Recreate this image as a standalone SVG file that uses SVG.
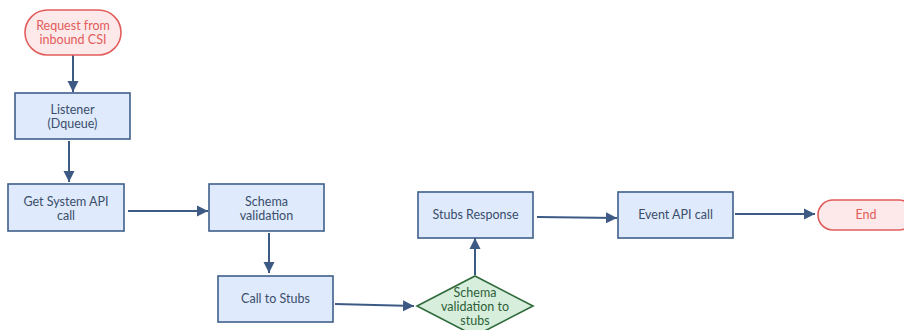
<svg xmlns="http://www.w3.org/2000/svg" width="904" height="330" viewBox="0 0 904 330">
<defs>
<marker id="ah" markerWidth="12" markerHeight="12" refX="11" refY="6" orient="auto" markerUnits="userSpaceOnUse">
<path d="M0,0.5 L11,6 L0,11.5 Z" fill="#3d5a85"/>
</marker>
<style>
.box{fill:#dfeafc;stroke:#3f5f8a;stroke-width:1.6}
.term{fill:#fde9e9;stroke:#e25c5c;stroke-width:1.6}
.dec{fill:#d6eedb;stroke:#2f6a3b;stroke-width:1.6}
.t{font-family:Lato,"Open Sans",sans-serif;font-size:12.5px;fill:#3a4e6b;text-anchor:middle}
.tr{font-family:Lato,"Open Sans",sans-serif;font-size:12.5px;fill:#e25c5c;text-anchor:middle}
.tg{font-family:Lato,"Open Sans",sans-serif;font-size:12.5px;fill:#2f5f38;text-anchor:middle}
.c{fill:none;stroke:#3d5a85;stroke-width:2;marker-end:url(#ah)}
</style>
</defs>
<rect width="904" height="330" fill="#ffffff"/>
<g id="connectors">
<line class="c" x1="73" y1="55" x2="73" y2="92"/>
<line class="c" x1="69" y1="141" x2="69" y2="182"/>
<line class="c" x1="128" y1="211" x2="208" y2="211"/>
<line class="c" x1="269" y1="233" x2="269" y2="273"/>
<line class="c" x1="335" y1="304" x2="414" y2="306"/>
<line class="c" x1="475" y1="275" x2="475" y2="238"/>
<line class="c" x1="537" y1="217" x2="617" y2="218"/>
<line class="c" x1="735" y1="214" x2="815" y2="214"/>
</g>
<g id="start">
<rect class="term" x="25" y="10" width="96" height="45" rx="22.5"/>
<text class="tr" x="73" y="30">Request from</text>
<text class="tr" x="73" y="44">inbound CSI</text>
</g>
<g id="listener">
<rect class="box" x="15" y="93" width="115" height="46"/>
<text class="t" x="72.5" y="114">Listener</text>
<text class="t" x="72.5" y="128">(Dqueue)</text>
</g>
<g id="getsystem">
<rect class="box" x="8" y="184" width="116" height="47"/>
<text class="t" x="66" y="206">Get System API</text>
<text class="t" x="66" y="220">call</text>
</g>
<g id="schemavalidation">
<rect class="box" x="209" y="184" width="115" height="47"/>
<text class="t" x="266.5" y="206">Schema</text>
<text class="t" x="266.5" y="220">validation</text>
</g>
<g id="calltostubs">
<rect class="box" x="218" y="276" width="115" height="46"/>
<text class="t" x="275.5" y="303">Call to Stubs</text>
</g>
<g id="schemavalidationstubs">
<polygon class="dec" points="475,276 533,306 475,336 417,306"/>
<text class="tg" x="475" y="297">Schema</text>
<text class="tg" x="475" y="311">validation to</text>
<text class="tg" x="475" y="325">stubs</text>
</g>
<g id="stubsresponse">
<rect class="box" x="418" y="192" width="115" height="46"/>
<text class="t" x="475.5" y="219">Stubs Response</text>
</g>
<g id="eventapi">
<rect class="box" x="618" y="192" width="115" height="46"/>
<text class="t" x="675.5" y="219">Event API call</text>
</g>
<g id="end">
<rect class="term" x="818" y="200" width="96" height="30" rx="15"/>
<text class="tr" x="866" y="219">End</text>
</g>
</svg>
